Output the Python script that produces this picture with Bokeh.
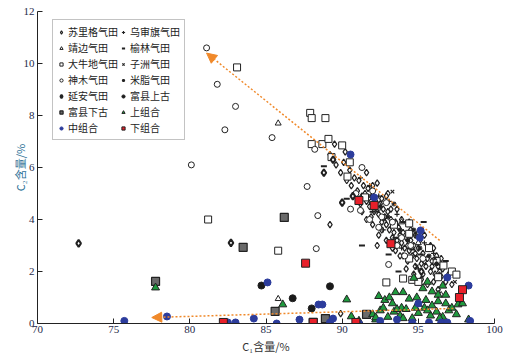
from bokeh.plotting import figure
from bokeh.models import Legend, LegendItem, Arrow, NormalHead, FixedTicker, Range1d
from bokeh.embed import file_html
from bokeh.resources import INLINE

# ---------------- data (C1 %, C2 %) ----------------
sulige_x = [89.2, 89.6, 89.9, 90.1, 90.3, 90.5, 90.6, 90.8, 91.0, 91.1, 91.3, 91.4, 91.6, 91.7, 91.8,
            92.0, 92.1, 92.2, 92.4, 92.5, 92.6, 92.7, 92.9, 93.0, 93.1, 93.2, 93.4, 93.5, 93.6, 93.7,
            93.9, 94.0, 94.1, 94.2, 94.4, 94.5, 94.6, 94.7, 94.9, 95.0, 95.2, 95.3, 95.5, 95.6, 95.8,
            95.9, 96.1, 96.3, 96.5, 96.6, 96.8, 97.0, 97.2, 89.2, 89.9, 92.3, 93.5, 94.2, 91.6, 92.3,
            93.0, 90.2, 89.5, 94.8, 95.4, 96.0,
            91.5, 91.9, 92.3, 92.8, 93.3, 93.8, 94.3, 94.8, 95.4, 95.9, 96.4, 92.0, 92.6, 93.2,
            93.9, 94.5, 95.1, 95.7, 96.2, 91.2, 91.9, 92.6, 93.3, 94.0, 94.8, 95.3, 96.0,
            91.3, 91.6, 92.0, 92.4, 92.9, 93.3, 93.8, 94.3, 94.7, 95.2, 95.6, 96.3, 92.9, 93.6,
            94.4, 95.0, 95.8, 96.5]
sulige_y = [6.5, 6.1, 5.8, 6.2, 5.5, 5.9, 5.3, 5.6, 5.1, 5.5, 4.9, 5.3, 4.7, 5.2, 4.5,
            4.9, 4.3, 4.7, 4.2, 4.6, 3.9, 4.4, 3.8, 4.3, 3.6, 4.0, 3.5, 3.9, 3.2, 3.7,
            3.1, 3.5, 2.9, 3.3, 2.8, 3.2, 2.6, 3.0, 2.5, 2.9, 2.3, 2.7, 2.2, 2.5, 2.0,
            2.4, 1.9, 2.2, 1.8, 2.1, 1.6, 1.9, 1.5, 3.8, 0.38, 3.0, 2.8, 2.1, 5.8, 5.4,
            5.0, 6.6, 6.9, 3.4, 3.4, 2.9,
            5.0, 4.7, 4.4, 4.1, 3.8, 3.4, 3.0, 2.7, 2.4, 2.2, 2.0, 5.3, 4.8, 4.4,
            4.0, 3.6, 3.2, 2.9, 2.6, 4.6, 4.1, 3.6, 3.3, 2.6, 2.2, 1.9, 1.6,
            4.3, 4.0, 3.8, 3.4, 3.2, 2.9, 2.6, 2.4, 1.9, 1.7, 1.5, 1.3, 4.9, 4.4,
            3.9, 3.5, 3.0, 2.5]

wushenqi_x = [91.8, 92.4, 93.1, 93.6, 94.3, 94.8, 95.4, 96.0, 92.7, 93.9, 95.0, 96.4, 91.2]
wushenqi_y = [5.3, 4.9, 4.7, 4.2, 3.8, 3.4, 3.1, 2.7, 3.6, 2.9, 2.1, 1.9, 5.6]

jingbian_x = [85.8, 85.8, 95.0, 93.9, 96.5]
jingbian_y = [7.7, 0.95, 3.1, 3.9, 1.1]

yulin_x = [88.8, 90.3, 91.3, 93.05, 93.7, 94.6, 95.15, 95.35, 92.0, 93.5, 94.0, 96.8]
yulin_y = [6.05, 4.8, 3.0, 2.65, 2.0, 2.85, 2.65, 3.9, 4.3, 3.3, 3.9, 2.4]

daniudi_x = [83.1, 81.2, 87.9, 88.0, 88.9, 88.0, 88.7, 89.1, 90.0, 89.3, 90.5, 90.35, 91.5,
             85.8, 92.9, 94.4, 96.2, 96.3, 96.65, 97.2, 97.5, 94.0, 94.6, 95.0, 94.4, 94.4,
             92.3, 93.4, 95.7]
daniudi_y = [9.85, 4.0, 8.1, 7.9, 7.9, 6.9, 6.9, 7.1, 6.85, 6.4, 6.2, 5.65, 4.85,
             2.8, 1.58, 2.5, 2.4, 1.78, 2.23, 2.0, 1.88, 1.73, 1.68, 1.6, 3.85, 3.45,
             4.5, 3.8, 2.9]

zizhou_x = [93.3, 97.4, 94.9, 92.8, 96.1]
zizhou_y = [5.07, 1.6, 2.2, 4.0, 2.5]

shenmu_x = [81.1, 81.8, 83.0, 82.3, 80.1, 85.4, 88.2, 87.7, 88.4, 88.3, 93.05, 90.55, 91.2,
            91.3, 92.9, 91.8, 92.4, 93.6, 94.1, 90.9, 92.6, 93.3, 94.5, 95.3, 92.0, 93.9]
shenmu_y = [10.6, 9.2, 8.35, 7.45, 6.1, 7.15, 6.7, 5.27, 4.15, 2.88, 2.27, 4.4, 4.35,
            6.0, 4.65, 4.0, 3.7, 3.0, 2.6, 5.0, 4.1, 3.9, 3.0, 2.5, 5.1, 3.3]

mizhi_x = [92.5, 93.0, 93.8, 94.3, 95.1, 95.7, 96.2, 94.7, 91.9, 93.4]
mizhi_y = [4.5, 4.1, 3.6, 3.2, 2.9, 2.6, 2.3, 3.6, 4.9, 4.6]

yanan_x = [72.7, 82.7, 88.8, 89.4, 90.0, 90.7, 93.3, 95.2]
yanan_y = [3.08, 3.1, 5.8, 6.3, 4.65, 4.9, 3.1, 2.0]

fx_upper_x = [84.7, 86.75, 89.2, 88.0]
fx_upper_y = [1.46, 0.97, 1.43, 0.58]

fx_lower_x = [77.75, 83.5, 85.6, 88.1, 88.9, 91.6, 86.2]
fx_lower_y = [1.62, 2.93, 0.47, 0.04, 0.19, 0.35, 4.08]

upper_x = [93.5, 94.0, 95.3, 95.9, 96.3, 96.8, 93.3, 94.4, 95.0, 95.9, 96.3, 96.8, 97.6, 97.9,
           92.8, 93.9, 92.0, 92.5, 93.0, 93.4, 93.8, 94.2, 94.6, 95.0, 95.4, 95.8, 96.2,
           96.6, 97.0, 97.5, 92.2, 92.7, 93.6, 94.0, 94.8, 95.6, 96.4, 97.2, 98.3,
           77.75, 86.1, 90.3, 90.6, 91.1, 92.2, 94.9, 95.5, 93.1, 94.7, 95.6, 96.6, 92.4]
upper_y = [1.2, 1.2, 1.35, 1.23, 1.1, 1.1, 0.77, 0.95, 0.75, 0.69, 0.85, 0.77, 0.73, 0.77,
           0.9, 0.6, 0.35, 0.5, 0.25, 0.45, 0.3, 0.55, 0.2, 0.4, 0.6, 0.3, 0.45,
           0.25, 0.5, 0.35, 0.15, 0.6, 0.55, 0.2, 0.6, 0.5, 0.2, 0.6, 0.15,
           1.38, 0.73, 0.92, 0.27, 0.1, 0.23, 1.0, 0.9, 1.0, 1.75, 1.6, 1.45, 1.05]

middle_x = [75.7, 78.5, 82.5, 83.0, 84.2, 85.7, 87.2, 88.1, 89.2, 89.4, 91.1, 92.5, 93.6,
            94.6, 95.7, 96.5, 96.9, 98.4, 85.1, 88.45, 88.7, 98.3, 96.9, 95.15, 95.1, 95.0,
            90.55, 92.1]
middle_y = [0.1, 0.27, 0.04, 0.04, 0.19, 0.0, 0.15, 0.04, 0.04, 0.19, 0.0, 0.1, 0.15,
            0.04, 0.04, 0.04, 0.04, 0.1, 1.58, 0.73, 0.73, 1.46, 1.77, 3.58, 3.3, 0.77,
            6.5, 4.85]

lower_x = [87.6, 82.2, 90.9, 88.1, 97.9, 97.7, 93.2, 92.1, 91.1]
lower_y = [2.32, 0.04, 0.04, 0.04, 1.3, 1.0, 3.07, 4.54, 4.73]

# trend arrows (start -> end, data units)
arrow_up = [96.4, 3.2, 81.1, 10.4]
arrow_low = [97.3, 0.58, 77.5, 0.23]

x_ticks = [70, 75, 80, 85, 90, 95, 100]
y_ticks = [0, 2, 4, 6, 8, 10, 12]

# ---------------- figure ----------------
p = figure(width=510, height=359, output_backend="svg", toolbar_location=None,
           x_range=Range1d(70, 100), y_range=Range1d(0, 12),
           min_border_left=37, min_border_right=16, min_border_top=11, min_border_bottom=36)
p.outline_line_color = None
p.grid.visible = False
p.background_fill_color = "white"

for ax in (p.xaxis[0], p.yaxis[0]):
    ax.major_tick_in = 5
    ax.major_tick_out = 0
    ax.minor_tick_in = 0
    ax.minor_tick_out = 0
    ax.axis_line_color = "#222222"
    ax.major_tick_line_color = "#222222"
    ax.major_label_text_font = "Liberation Serif"
    ax.major_label_text_font_size = "11px"
    ax.major_label_text_color = "#1e2a4a"
    ax.axis_label_text_font = "Noto Sans CJK SC"
    ax.axis_label_text_font_style = "normal"
    ax.axis_label_text_font_size = "11px"

p.xaxis.ticker = FixedTicker(ticks=x_ticks)
p.yaxis.ticker = FixedTicker(ticks=y_ticks)
p.xaxis.major_label_standoff = 2
p.yaxis.major_label_standoff = 3
p.xaxis.axis_label = "C₁含量/%"
p.yaxis.axis_label = "C₂含量/%"
p.xaxis.axis_label_standoff = 2
p.yaxis.axis_label_standoff = -7
p.xaxis.axis_label_text_color = "#333333"
p.yaxis.axis_label_text_color = "#2a6f96"

orange = "#f0892a"
for a in (arrow_up, arrow_low):
    p.add_layout(Arrow(end=NormalHead(size=10, fill_color=orange, line_color=orange),
                       x_start=a[0], y_start=a[1], x_end=a[2], y_end=a[3],
                       line_color=orange, line_width=1.5, line_dash="2 2"))

k = "#222222"
r = {}
r["苏里格气田"] = p.scatter(sulige_x, sulige_y, marker="diamond", size=6.5, fill_color="white", line_color=k, line_width=1.2)
r["乌审旗气田"] = p.scatter(wushenqi_x, wushenqi_y, marker="cross", size=5, line_color=k, line_width=1.2)
r["靖边气田"] = p.scatter(jingbian_x, jingbian_y, marker="triangle", size=6, fill_color="white", line_color=k, line_width=1)
r["榆林气田"] = p.scatter(yulin_x, yulin_y, marker="dash", size=6, line_color=k, line_width=2)
r["大牛地气田"] = p.scatter(daniudi_x, daniudi_y, marker="square", size=7, fill_color="white", line_color=k, line_width=1)
r["子洲气田"] = p.scatter(zizhou_x, zizhou_y, marker="x", size=5, line_color=k, line_width=1.2)
r["神木气田"] = p.scatter(shenmu_x, shenmu_y, marker="circle", size=6, fill_color="white", line_color=k, line_width=1)
r["米脂气田"] = p.scatter(mizhi_x, mizhi_y, marker="asterisk", size=5, line_color=k, line_width=1.2)
r["延安气田"] = p.scatter(yanan_x, yanan_y, marker="diamond", size=7, fill_color="white", line_color=k, line_width=2)
r["富县上古"] = p.scatter(fx_upper_x, fx_upper_y, marker="circle", size=7, fill_color="#1a1a1a", line_color=k)
r["富县下古"] = p.scatter(fx_lower_x, fx_lower_y, marker="square", size=8, fill_color="#6a6a6a", line_color=k, line_width=1.2)
r["上组合"] = p.scatter(upper_x, upper_y, marker="triangle", size=8, fill_color="#1f9a3e", line_color=k, line_width=1)
r["中组合"] = p.scatter(middle_x, middle_y, marker="circle", size=7, fill_color="#2c3c9c", line_color="#2c3c9c")
r["下组合"] = p.scatter(lower_x, lower_y, marker="square", size=8, fill_color="#e8202a", line_color=k, line_width=1)

# Bokeh fills legend columns top-to-bottom: left column first, then right column
order = ["苏里格气田", "靖边气田", "大牛地气田", "神木气田", "延安气田", "富县下古", "中组合",
         "乌审旗气田", "榆林气田", "子洲气田", "米脂气田", "富县上古", "上组合", "下组合"]
legend = Legend(items=[LegendItem(label=n, renderers=[r[n]]) for n in order],
                location=(15, 183), ncols=2)
legend.label_text_font = "Noto Sans CJK SC"
legend.label_text_font_size = "10px"
legend.label_text_color = "#222222"
legend.glyph_width = 8
legend.glyph_height = 8
legend.label_height = 13
legend.label_standoff = 3
legend.spacing = 1
legend.padding = 4
legend.margin = 0
legend.border_line_color = "#888888"
legend.border_line_width = 1.5
legend.background_fill_alpha = 1
p.add_layout(legend)

html = file_html(p, INLINE)
open("out.html", "w").write(html)
